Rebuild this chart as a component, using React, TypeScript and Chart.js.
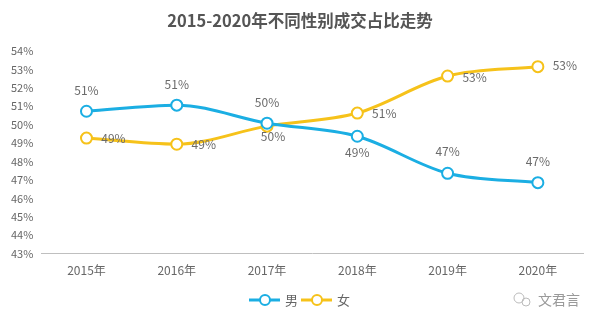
import React, { useEffect, useRef } from "react";
import { Chart, registerables } from "chart.js";

Chart.register(...registerables);

const years = ["2015年", "2016年", "2017年", "2018年", "2019年", "2020年"];
const male = [50.73, 51.06, 50.08, 49.37, 47.36, 46.85];
const female = [49.27, 48.94, 49.92, 50.63, 52.64, 53.15];
const yTicks = [43, 44, 45, 46, 47, 48, 49, 50, 51, 52, 53, 54];
const seriesNames = ["男", "女"];
const title = "2015-2020年不同性别成交占比走势";

const BLUE = "#1BAEE3";
const YELLOW = "#F6C21A";
const FONT = "'Noto Sans CJK SC', 'Noto Sans', sans-serif";

// label offsets (dx, dy) relative to each point, per series
const labelOffsets = [
  [[0, -21], [0, -21], [0, -21], [0, 16], [0, -22], [0, -21]],
  [[27, 0], [27, 0], [6, 10], [27, 0], [27, 1], [27, -1]],
];

const labelPlugin = {
  id: "pointLabels",
  afterDatasetsDraw(chart: any) {
    const ctx = chart.ctx;
    ctx.save();
    ctx.font = `12px ${FONT}`;
    ctx.fillStyle = "#6b6b6b";
    ctx.textAlign = "center";
    ctx.textBaseline = "middle";
    chart.data.datasets.forEach((ds: any, di: number) => {
      const meta = chart.getDatasetMeta(di);
      meta.data.forEach((el: any, i: number) => {
        const [dx, dy] = labelOffsets[di][i];
        ctx.fillText(Math.round(ds.data[i]) + "%", el.x + dx, el.y + dy);
      });
    });
    ctx.restore();
  },
};

const decorPlugin = {
  id: "decor",
  afterDraw(chart: any) {
    const ctx = chart.ctx;
    ctx.save();
    // title
    ctx.fillStyle = "#555";
    ctx.font = `bold 16.5px ${FONT}`;
    ctx.textAlign = "center";
    ctx.textBaseline = "middle";
    ctx.fillText(title, 300, 21);
    // legend
    const y = 300;
    const items = [
      { x: 249, color: BLUE, name: seriesNames[0] },
      { x: 301, color: YELLOW, name: seriesNames[1] },
    ];
    items.forEach((it) => {
      ctx.strokeStyle = it.color;
      ctx.lineWidth = 3;
      ctx.beginPath();
      ctx.moveTo(it.x, y);
      ctx.lineTo(it.x + 31, y);
      ctx.stroke();
      ctx.beginPath();
      ctx.arc(it.x + 16, y, 5, 0, Math.PI * 2);
      ctx.fillStyle = "#fff";
      ctx.fill();
      ctx.lineWidth = 2;
      ctx.stroke();
      ctx.fillStyle = "#666";
      ctx.font = `13px ${FONT}`;
      ctx.textAlign = "left";
      ctx.textBaseline = "middle";
      ctx.fillText(it.name, it.x + 36, y);
    });
    // watermark
    ctx.fillStyle = "#9a9a9a";
    ctx.font = `14px ${FONT}`;
    ctx.fillText("文君言", 538, 300);
    ctx.strokeStyle = "#bbb";
    ctx.lineWidth = 1;
    ctx.beginPath();
    ctx.arc(519, 298, 5, 0, Math.PI * 2);
    ctx.stroke();
    ctx.beginPath();
    ctx.arc(526, 302, 4, 0, Math.PI * 2);
    ctx.stroke();
    ctx.restore();
  },
};

export default function App() {
  const ref = useRef<HTMLCanvasElement>(null);
  useEffect(() => {
    if (!ref.current) return;
    const mk = (label: string, data: number[], color: string) => ({
      label,
      data,
      borderColor: color,
      backgroundColor: "#fff",
      borderWidth: 3,
      pointRadius: 5.5,
      pointBorderWidth: 2,
      pointBackgroundColor: "#fff",
      pointBorderColor: color,
      tension: 0.4,
      cubicInterpolationMode: "monotone" as const,
    });
    const chart = new Chart(ref.current, {
      type: "line",
      data: {
        labels: years,
        datasets: [mk(seriesNames[0], male, BLUE), mk(seriesNames[1], female, YELLOW)],
      },
      options: {
        animation: false,
        responsive: false,
        layout: { padding: { left: 3, right: 17, top: 51, bottom: 36 } },
        plugins: {
          legend: { display: false },
          tooltip: { enabled: false },
          title: { display: false },
        },
        scales: {
          x: {
            offset: true,
            grid: { display: false, drawTicks: false },
            border: { display: true, color: "#bfbfbf", width: 1 },
            ticks: { color: "#666", font: { family: FONT, size: 12 }, padding: 10 },
          },
          y: {
            min: 43,
            max: 54,
            afterBuildTicks: (axis: any) => {
              axis.ticks = yTicks.map((v) => ({ value: v }));
            },
            grid: { display: false, drawTicks: false },
            border: { display: false },
            ticks: {
              color: "#666",
              font: { family: FONT, size: 11 },
              padding: 8,
              callback: (v: any) => v + "%",
            },
          },
        },
      },
      plugins: [labelPlugin, decorPlugin],
    });
    return () => chart.destroy();
  }, []);
  return (
    <div style={{ position: "fixed", left: 0, top: 0, width: 600, height: 324, background: "#fff" }}>
      <canvas ref={ref} width={600} height={324} style={{ width: 600, height: 324 }} />
    </div>
  );
}
